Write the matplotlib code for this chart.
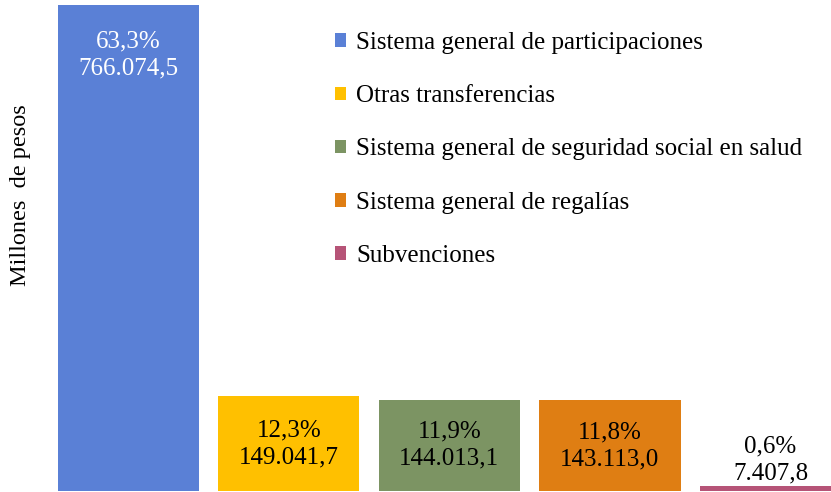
import matplotlib.pyplot as plt
from matplotlib.patches import Patch

categorias = ['Sistema general de participaciones', 'Otras transferencias',
              'Sistema general de seguridad social en salud',
              'Sistema general de regalías', 'Subvenciones']
valores = [766074.5, 149041.7, 144013.1, 143113.0, 7407.8]
porcentajes = ['63,3%', '12,3%', '11,9%', '11,8%', '0,6%']
etiquetas_valor = ['766.074,5', '149.041,7', '144.013,1', '143.113,0', '7.407,8']
colores = ['#5a80d6', '#ffc000', '#7c9463', '#df7e13', '#b65477']

plt.rcParams['font.family'] = ['Liberation Serif', 'DejaVu Serif']

W, H = 831, 492
fig = plt.figure(figsize=(W / 100, H / 100), dpi=100)
ax = fig.add_axes([48 / W, 1 / H, (W - 48) / W, 486 / H])

x = list(range(len(valores)))
bars = ax.bar(x, valores, width=0.88, color=colores)
ax.set_xlim(-0.5, (W - 128.5) / 160.5)
ax.set_ylim(0, max(valores))
ax.axis('off')

for i, b in enumerate(bars):
    texto = f'{porcentajes[i]}\n{etiquetas_valor[i]}'
    cx = b.get_x() + b.get_width() / 2
    if i == 0:
        ax.text(cx, valores[i] * 0.947, texto, ha='center', va='top',
                color='white', fontsize=18, linespacing=1.3)
    elif i == len(valores) - 1:
        ax.text(cx, valores[i] + 2500, texto, ha='center', va='bottom',
                color='black', fontsize=18, linespacing=1.3)
    else:
        ax.text(cx, valores[i] / 2, texto, ha='center', va='center',
                color='black', fontsize=18, linespacing=1.3)

handles = [Patch(facecolor=c, edgecolor='none') for c in colores]
fig.legend(handles, categorias, loc='upper left',
           bbox_to_anchor=(335 / W, 1 - 32 / H), frameon=False, fontsize=18,
           handlelength=0.45, handleheight=0.45, handletextpad=0.4,
           labelspacing=1.25, borderaxespad=0, borderpad=0)

fig.text(21 / W, 1 - 195 / H, 'Millones  de pesos', rotation=90,
         ha='center', va='center', fontsize=17.5)

fig.savefig('out.png', dpi=100)
